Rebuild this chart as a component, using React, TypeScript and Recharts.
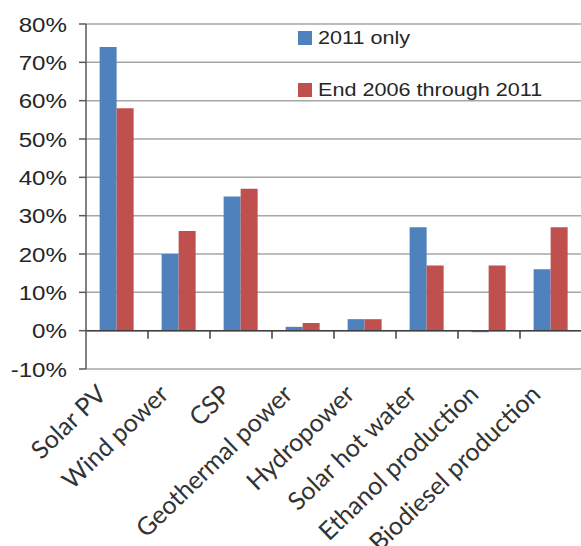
import { BarChart, Bar, XAxis, YAxis, CartesianGrid, ReferenceLine } from 'recharts'

const categories = ['Solar PV', 'Wind power', 'CSP', 'Geothermal power', 'Hydropower', 'Solar hot water', 'Ethanol production', 'Biodiesel production']
const only2011 = [74, 20, 35, 1, 3, 27, -0.4, 16]
const end2006to2011 = [58, 26, 37, 2, 3, 17, 17, 27]
const yTicks = [-10, 0, 10, 20, 30, 40, 50, 60, 70, 80]
const seriesNames = ['2011 only', 'End 2006 through 2011']

const BLUE = '#4F81BD'
const RED = '#C0504D'
const FONT = '"Liberation Sans", Arial, sans-serif'

const data = categories.map((name, i) => ({ name, a: only2011[i], b: end2006to2011[i] }))

const YTick = ({ x, y, payload }: any) => (
  <text
    transform={`translate(${x},${y}) scale(1.15,1)`}
    textAnchor="end"
    dy="0.36em"
    fontSize={21}
    fontFamily={FONT}
    fill="#262626"
  >
    {payload.value}%
  </text>
)

const XTick = ({ x, y, payload }: any) => (
  <text
    transform={`translate(${x - 9},${y + 27}) rotate(-44)`}
    textAnchor="end"
    fontSize={25}
    fontFamily="Lato, sans-serif"
    fill="#333"
  >
    {payload.value}
  </text>
)

const ZeroLine = (props: any) => {
  const { x1, y1, x2, y2 } = props
  const w = (x2 - x1) / categories.length
  return (
    <g>
      <line x1={x1} y1={y1} x2={x2} y2={y2} stroke="#404040" strokeWidth={1.5} />
      {categories.map((_, i) => (
        <line key={i} x1={x1 + w * (i + 1)} y1={y1} x2={x1 + w * (i + 1)} y2={y1 + 8} stroke="#404040" strokeWidth={1.5} />
      ))}
    </g>
  )
}

const LegendBox = () => (
  <div style={{ position: 'absolute', left: 298, top: 29, fontFamily: FONT, fontSize: 18, color: '#262626' }}>
    {[BLUE, RED].map((color, i) => (
      <div key={i} style={{ display: 'flex', alignItems: 'center', height: 18, marginBottom: i === 0 ? 34 : 0 }}>
        <span style={{ width: 14, height: 14, background: color, display: 'inline-block', marginRight: 6 }} />
        <span style={{ display: 'inline-block', transform: 'scaleX(1.2)', transformOrigin: 'left center', whiteSpace: 'nowrap' }}>
          {seriesNames[i]}
        </span>
      </div>
    ))}
  </div>
)

export default function App() {
  return (
    <div style={{ position: 'relative', width: 581, height: 546 }}>
      <style>{'body{margin:0;background:#fff}'}</style>
      <BarChart
        width={581}
        height={546}
        data={data}
        margin={{ top: 24, right: -1, left: 0, bottom: 0 }}
        barCategoryGap="22%"
        barGap={0}
      >
        <CartesianGrid vertical={false} stroke="#a6a6a6" strokeWidth={1.5} />
        <XAxis dataKey="name" height={177} axisLine={false} tickLine={false} tickSize={0} tickMargin={0} interval={0} tick={<XTick />} />
        <YAxis
          width={86}
          domain={[-10, 80]}
          ticks={yTicks}
          interval={0}
          allowDataOverflow
          axisLine={{ stroke: '#595959', strokeWidth: 1.5 }}
          tickLine={{ stroke: '#595959', strokeWidth: 1.5 }}
          tickSize={7}
          tickMargin={12}
          tick={<YTick />}
        />
        <ReferenceLine y={0} shape={<ZeroLine />} />
        <Bar dataKey="a" name={seriesNames[0]} fill={BLUE} isAnimationActive={false} />
        <Bar dataKey="b" name={seriesNames[1]} fill={RED} isAnimationActive={false} />
      </BarChart>
      <LegendBox />
    </div>
  )
}
